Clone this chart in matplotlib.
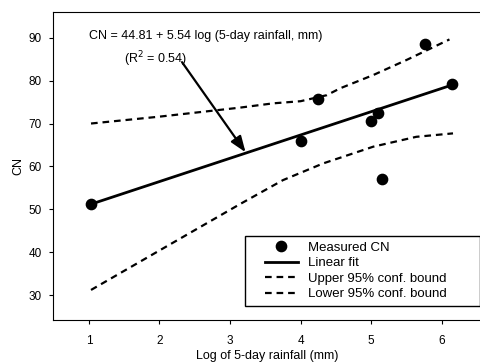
import numpy as np
import matplotlib.pyplot as plt
from matplotlib.patches import Rectangle

plt.rcParams['font.family'] = ['Liberation Sans', 'DejaVu Sans']

# measured points
log_rain = [1.03, 4.0, 4.24, 5.0, 5.1, 5.15, 5.76, 6.15]
cn_meas = [51.3, 65.9, 75.7, 70.6, 72.5, 57.0, 88.6, 79.3]

# linear fit end points
fit_x = [1.03, 6.15]
fit_y = [51.2, 79.0]

# 95% confidence bounds
upper_x = [1.03, 2.0, 3.14, 3.61, 4.0, 4.37, 4.56, 5.03, 5.5, 6.11]
upper_y = [70.0, 71.6, 73.7, 74.7, 75.2, 76.6, 78.2, 81.3, 84.8, 89.6]
lower_x = [1.03, 2.0, 3.14, 3.75, 4.32, 5.03, 5.64, 6.16]
lower_y = [31.2, 40.4, 51.2, 56.8, 60.7, 64.6, 66.9, 67.7]

fig = plt.figure(figsize=(4.81, 3.63), dpi=100)
ax = fig.add_axes([0.110, 0.1185, 0.889, 0.8485])

ax.plot(log_rain, cn_meas, 'o', color='black', markersize=7.4, label='Measured CN', zorder=4)
ax.plot(fit_x, fit_y, '-', color='black', linewidth=2.0, label='Linear fit')
ax.plot(upper_x, upper_y, '--', color='black', linewidth=1.6, dashes=(3, 2.2),
        label='Upper 95% conf. bound')
ax.plot(lower_x, lower_y, '--', color='black', linewidth=1.6, dashes=(3, 2.2),
        label='Lower 95% conf. bound')

ax.text(1.0, 90.3, 'CN = 44.81 + 5.54 log (5-day rainfall, mm)', fontsize=9, va='center')
ax.text(1.5, 85.0, '(R$^2$ = 0.54)', fontsize=9, va='center')
ax.annotate('', xy=(3.22, 63.3), xytext=(2.32, 84.3),
            arrowprops=dict(arrowstyle='-|>,head_length=0.8,head_width=0.3',
                            color='black', lw=1.6, mutation_scale=12,
                            shrinkA=0, shrinkB=0))

ax.set_xlim(0.49, 6.55)
ax.set_ylim(24.2, 96)
ax.set_xticks([1, 2, 3, 4, 5, 6])
ax.set_yticks([30, 40, 50, 60, 70, 80, 90])
ax.tick_params(labelsize=8.5, length=3, direction='out')
ax.tick_params(axis='x', pad=8)
ax.tick_params(axis='y', pad=5)
ax.set_xlabel('Log of 5-day rainfall (mm)', fontsize=9, labelpad=2)
ax.set_ylabel('CN', fontsize=9, labelpad=3)
ax.spines['right'].set_visible(False)

# legend box drawn separately so its padding matches the original
ax.add_patch(Rectangle((0.449, 0.045), 0.549, 0.228, transform=ax.transAxes,
                       fill=True, facecolor='white', edgecolor='black', lw=1.0, zorder=5))
leg = ax.legend(loc='upper left', bbox_to_anchor=(0.495, 0.255), fontsize=9.5,
                frameon=False, handlelength=2.5, borderpad=0, labelspacing=0.25,
                handletextpad=0.8, borderaxespad=0)
leg.set_zorder(6)

fig.savefig('out.png', dpi=100)
